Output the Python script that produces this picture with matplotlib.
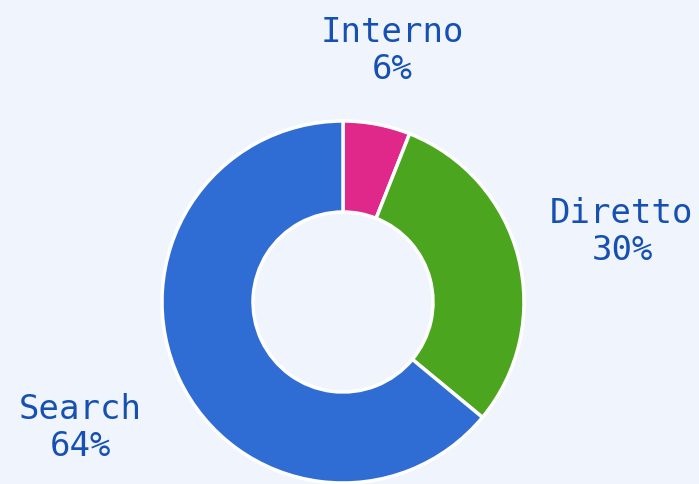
import matplotlib.pyplot as plt

labels = ["Interno", "Diretto", "Search"]
shares = [6, 30, 64]
colors = ["#e0288a", "#4ca51e", "#2f6dd5"]

BG = "#f0f4fc"
TEXT = "#1550b2"

fig = plt.figure(figsize=(6.99, 4.84), dpi=100, facecolor=BG)
ax = fig.add_axes([0, 0, 1, 1])
ax.set_facecolor(BG)

# donut, clockwise from the top
ax.pie(
    shares,
    colors=colors,
    startangle=90,
    counterclock=False,
    center=(343, 182),
    radius=181,
    wedgeprops=dict(width=91, edgecolor="white", linewidth=2.5),
    frame=True,
)

ax.set_xlim(0, 699)
ax.set_ylim(0, 484)
ax.set_aspect("equal")
ax.axis("off")

# label positions (pixel coords, y up)
label_xy = [(392, 433), (622, 252), (80, 56)]
for lab, val, (x, y) in zip(labels, shares, label_xy):
    ax.text(x, y, f"{lab}\n{val}%", ha="center", va="center",
            fontsize=24.5, color=TEXT, family="DejaVu Sans Mono",
            linespacing=1.17)

fig.savefig("out.png", dpi=100, facecolor=BG)
